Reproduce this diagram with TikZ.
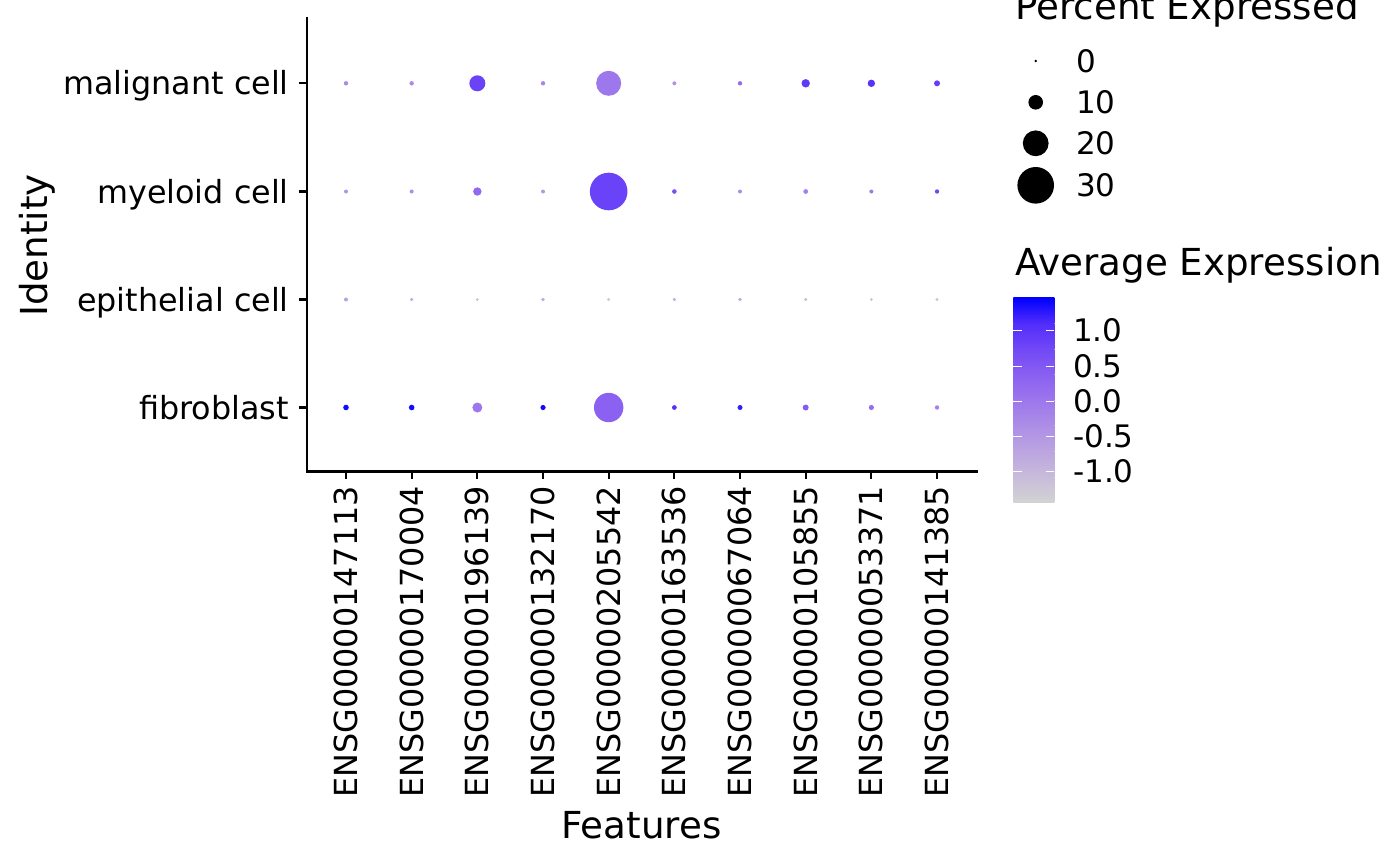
\documentclass[tikz,border=0pt]{standalone}
\usepackage{fontspec}
\setmainfont{DejaVu Sans}
\usepackage{tikz}
\usetikzlibrary{positioning}

\definecolor{avg0}{HTML}{D3D3D3}
\definecolor{avg1}{HTML}{C8BCDA}
\definecolor{avg2}{HTML}{BCA5E0}
\definecolor{avg3}{HTML}{AD8EE6}
\definecolor{avg4}{HTML}{9D77EC}
\definecolor{avg5}{HTML}{8A60F1}
\definecolor{avg6}{HTML}{7248F6}
\definecolor{avg7}{HTML}{522DFB}
\definecolor{avg8}{HTML}{0000FF}

\tikzset{
    axisline/.style={line width=2.2pt,line cap=rect},
    ticktext/.style={inner sep=0pt,font=\fontsize{31.8}{36}\selectfont},
    titletext/.style={inner sep=0pt,font=\fontsize{37.2}{40}\selectfont},
    legtext/.style={inner sep=0pt,font=\fontsize{31}{34}\selectfont},
    dot/.style={circle,inner sep=0pt,draw=none}
}

\begin{document}
\begin{tikzpicture}[
                x=1pt,y=-1pt,
                node distance=18pt
            ]
                \useasboundingbox (0,0) rectangle (1400,865);

                % panel
                \draw[axisline] (306.6,18) -- (306.6,471.5) -- (976.4,471.5);
                \foreach \y/\name/\lab in {83.3/mal/malignant cell,191.5/mye/myeloid cell,299.5/epi/epithelial cell,407.5/fib/fibroblast} {
                    \draw[line width=2.2pt] (299,\y) -- (306.6,\y);
                    \node[ticktext,anchor=base east] (lab-\name) at (289,\y+11.6) {\lab};
                }
                \foreach \gene [count=\i] in {147113,170004,196139,132170,205542,163536,067064,105855,053371,141385} {
                    \draw[line width=2.2pt] ({346+65.67*(\i-1)},471.5) -- ({346+65.67*(\i-1)},479);
                    \node[ticktext,rotate=90,anchor=east] (gene-\i) at ({346+65.67*(\i-1)},486) {ENSG00000\gene};
                }
                \node[titletext,anchor=base] (xtitle) at (641.5,838) {Features};
                \node[titletext,anchor=base,rotate=90] (ytitle) at (47,245.5) {Identity};

                % dots: colour (0-100) / radius
                \foreach \y/\row/\data in {
                    83.3/1/{40/2.2,40/2.2,78/8,42/2.2,50/12.5,35/2.0,55/2.2,82/4.2,85/3.7,80/3.0},
                    191.5/2/{35/2,38/2,58/4.2,32/2,78/18.8,72/2.3,38/2,45/2.4,50/2,75/2.2},
                    299.5/3/{28/2,22/1.8,8/1.6,22/1.8,4/1.7,20/1.8,22/1.8,15/1.6,10/1.6,10/1.6},
                    407.5/4/{97/2.8,97/2.8,50/5,97/2.6,62/14.7,85/2.4,92/2.5,65/3,55/2.6,45/2.2}} {
                    \foreach \t/\r [count=\i] in \data {
                        \pgfmathtruncatemacro\lo{min(7,floor(\t/12.5))}
                        \pgfmathtruncatemacro\hi{\lo+1}
                        \pgfmathtruncatemacro\w{round((\t-12.5*\lo)*8)}
                        \colorlet{dotcol}{avg\hi!\w!avg\lo}
                        \node[dot,minimum size=2*\r,fill=dotcol] (d-\row-\i) at ({346+65.67*(\i-1)},\y) {};
                    }
                }

                % legend: percent expressed
                \node[titletext,anchor=base west] (ptitle) at (1015,19.5) {Percent Expressed};
                \node[dot,fill=black,minimum size=2.8] (p0) at (1035.7,61) {};
                \node[dot,fill=black,minimum size=14.6] (p10) at (1035.7,102.3) {};
                \node[dot,fill=black,minimum size=25.8] (p20) at (1035.7,143.3) {};
                \node[dot,fill=black,minimum size=36.6] (p30) at (1035.7,185.3) {};
                \node[legtext,anchor=west] (l0) at (1076,61) {0};
                \node[legtext,anchor=west] (l10) at (1076,102.3) {10};
                \node[legtext,anchor=west] (l20) at (1076,143.3) {20};
                \node[legtext,anchor=west] (l30) at (1076,185.3) {30};

                % legend: average expression
                \node[titletext,anchor=base west] (atitle) at (1015,275) {Average Expression};
                \foreach \k [evaluate=\k as \kk using int(\k+1)] in {0,...,7} {
                    \shade[bottom color=avg\k,top color=avg\kk] (1013.3,{502.7-25.59*\k}) rectangle (1054.3,{502.7-25.59*(\k+1)});
                }
                \foreach \v/\ty in {1.0/330,0.5/366,0.0/401,-0.5/436,-1.0/471} {
                    \draw[white,line width=1pt] (1013.3,\ty) -- (1021.5,\ty);
                    \draw[white,line width=1pt] (1046.1,\ty) -- (1054.3,\ty);
                    \node[legtext,anchor=west] (c\ty) at (1073,\ty) {\v};
                }
            \end{tikzpicture}
\end{document}
